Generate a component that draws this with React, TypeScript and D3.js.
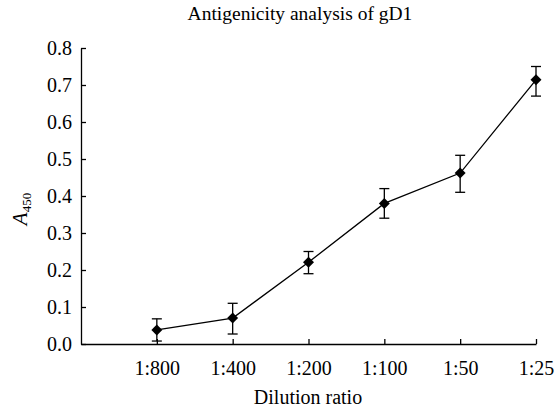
import React, { useEffect, useRef } from 'react';
import * as d3 from 'd3';

const categories = ['1:800', '1:400', '1:200', '1:100', '1:50', '1:25'];
const means = [0.038, 0.07, 0.221, 0.38, 0.462, 0.714];
const errLow = [0.008, 0.027, 0.19, 0.34, 0.41, 0.67];
const errHigh = [0.068, 0.11, 0.25, 0.42, 0.51, 0.75];
const yTicks = [0, 0.1, 0.2, 0.3, 0.4, 0.5, 0.6, 0.7, 0.8];

const W = 554;
const H = 412;
const FONT = '"Liberation Serif", "Times New Roman", serif';

const App = () => {
  const svgRef = useRef<SVGSVGElement | null>(null);

  useEffect(() => {
    if (!svgRef.current) return;
    const svg = d3.select(svgRef.current);
    svg.selectAll('*').remove();

    const x = d3.scaleLinear().domain([-1, categories.length - 1]).range([81, 536]);
    const y = d3.scaleLinear().domain([0, 0.8]).range([344, 48]);

    const g = svg.append('g');

    // axes
    const xAxis = g.append('g')
      .attr('transform', `translate(0,${y(0)})`)
      .attr('font-family', FONT)
      .call(d3.axisBottom(x).tickValues(d3.range(categories.length)).tickSizeInner(-5).tickSizeOuter(0)
        .tickFormat(i => categories[i as number]));
    xAxis.attr('font-family', FONT);
    xAxis.select('.domain').attr('stroke-width', 1.3);
    xAxis.selectAll('.tick line').attr('stroke-width', 1.3);
    xAxis.selectAll('text')
      .attr('font-family', FONT).attr('font-size', 20).attr('fill', '#000').attr('y', 31).attr('dy', 0);

    const yAxis = g.append('g')
      .attr('transform', `translate(${x(-1)},0)`)
      .call(d3.axisLeft(y).tickValues(yTicks).tickSizeInner(-5).tickSizeOuter(0).tickFormat(d3.format('.1f')));
    yAxis.attr('font-family', FONT);
    yAxis.select('.domain').attr('stroke-width', 1.3);
    yAxis.selectAll('.tick line').attr('stroke-width', 1.3);
    yAxis.selectAll('text')
      .attr('font-family', FONT).attr('font-size', 20).attr('fill', '#000').attr('x', -9).attr('dy', '0.33em');

    // error bars
    const eb = g.append('g').attr('stroke', '#000').attr('stroke-width', 1.3);
    categories.forEach((c, i) => {
      const cx = x(i);
      eb.append('line').attr('x1', cx).attr('x2', cx).attr('y1', y(errLow[i])).attr('y2', y(errHigh[i]));
      eb.append('line').attr('x1', cx - 5).attr('x2', cx + 5).attr('y1', y(errLow[i])).attr('y2', y(errLow[i]));
      eb.append('line').attr('x1', cx - 5).attr('x2', cx + 5).attr('y1', y(errHigh[i])).attr('y2', y(errHigh[i]));
    });

    // line
    const line = d3.line<number>().x((d, i) => x(i)).y(d => y(d));
    g.append('path').datum(means).attr('d', line).attr('fill', 'none').attr('stroke', '#000').attr('stroke-width', 1.3);

    // markers (square rotated 45deg)
    g.selectAll('.pt').data(means).enter().append('path')
      .attr('d', d3.symbol(d3.symbolSquare, 60)())
      .attr('transform', (d, i) => `translate(${x(i)},${y(d)}) rotate(45)`)
      .attr('fill', '#000');

    // title
    svg.append('text').attr('x', 300).attr('y', 20).attr('text-anchor', 'middle')
      .attr('font-family', FONT).attr('font-size', 19.5).text('Antigenicity analysis of gD1');

    // x label
    svg.append('text').attr('x', 308).attr('y', 404).attr('text-anchor', 'middle')
      .attr('font-family', FONT).attr('font-size', 20).text('Dilution ratio');

    // y label
    const yl = svg.append('text').attr('transform', 'translate(27,209) rotate(-90)').attr('text-anchor', 'middle')
      .attr('font-family', FONT).attr('font-size', 21);
    yl.append('tspan').attr('font-style', 'italic').text('A');
    yl.append('tspan').attr('font-size', 13).attr('dy', 4).text('450');
  }, []);

  return <svg ref={svgRef} width={W} height={H} style={{ display: 'block', position: 'absolute', left: 0, top: 0, background: '#fff' }} />;
};

export default App;
